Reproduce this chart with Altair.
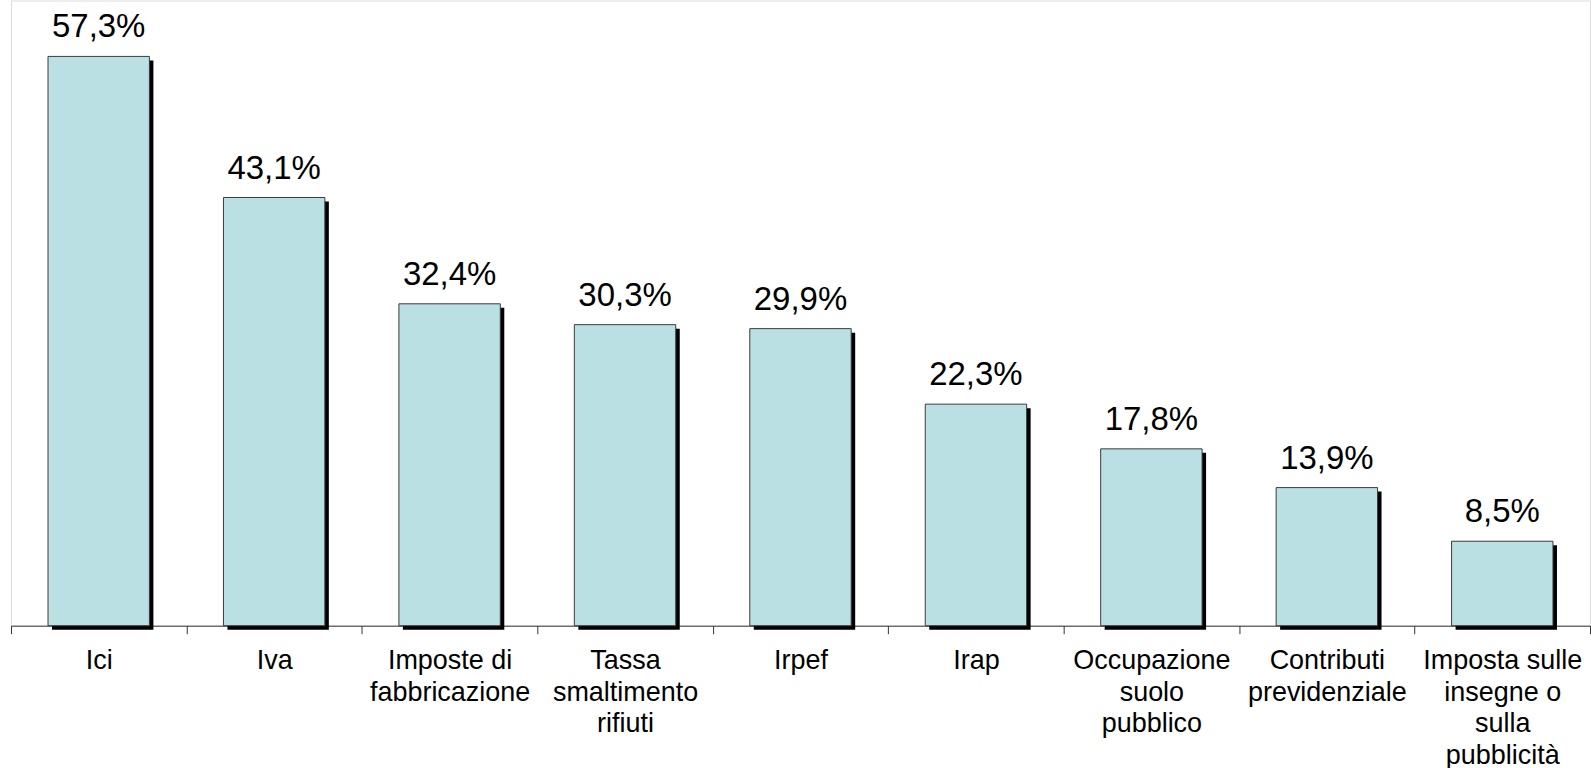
import altair as alt
import pandas as pd

categories = ["Ici", "Iva", "Imposte di|fabbricazione", "Tassa|smaltimento|rifiuti", "Irpef",
              "Irap", "Occupazione|suolo|pubblico", "Contributi|previdenziale",
              "Imposta sulle|insegne o|sulla|pubblicità"]
values = [57.3, 43.1, 32.4, 30.3, 29.9, 22.3, 17.8, 13.9, 8.5]

df = pd.DataFrame({"cat": categories, "v": values})

FONT = "Liberation Sans"
x = alt.X("cat:N", sort=categories, title=None,
          scale=alt.Scale(paddingInner=0, paddingOuter=0),
          axis=alt.Axis(labelExpr="split(datum.label, '|')", labelAngle=0,
                        labelFont=FONT, labelFontSize=27, labelLineHeight=31.5,
                        labelColor="#000000", labelPadding=14, labelBaseline="top",
                        tickBand="extent", tickSize=8, tickColor="#333333",
                        domainColor="#333333", domainWidth=1, tickWidth=1,
                        labelLimit=400))
y = alt.Y("v:Q", title=None, scale=alt.Scale(domain=[0, 62.93], nice=False, zero=True), axis=None)

base = alt.Chart(df).encode(x=x, y=y)

shadow = base.mark_bar(width=alt.RelativeBandSize(0.578), color="#000000", xOffset=4, yOffset=4)
bars = base.mark_bar(width=alt.RelativeBandSize(0.578), color="#BAE0E3", stroke="#3a3a3a", strokeWidth=1)
labels = base.transform_calculate(
    lab="replace(format(datum.v, '.1f'), '.', ',') + '%'"
).mark_text(font=FONT, fontSize=33, dy=-19, baseline="alphabetic", align="center", color="#000000").encode(
    text="lab:N")

chart = alt.layer(shadow, bars, labels).properties(
    width=1581, height=626,
    padding={"left": 10, "top": 0, "right": 0, "bottom": 0},
).configure_view(stroke=None).configure(background="#ffffff")

chart.save("out.html", embed_options={"renderer": "svg", "actions": False})
